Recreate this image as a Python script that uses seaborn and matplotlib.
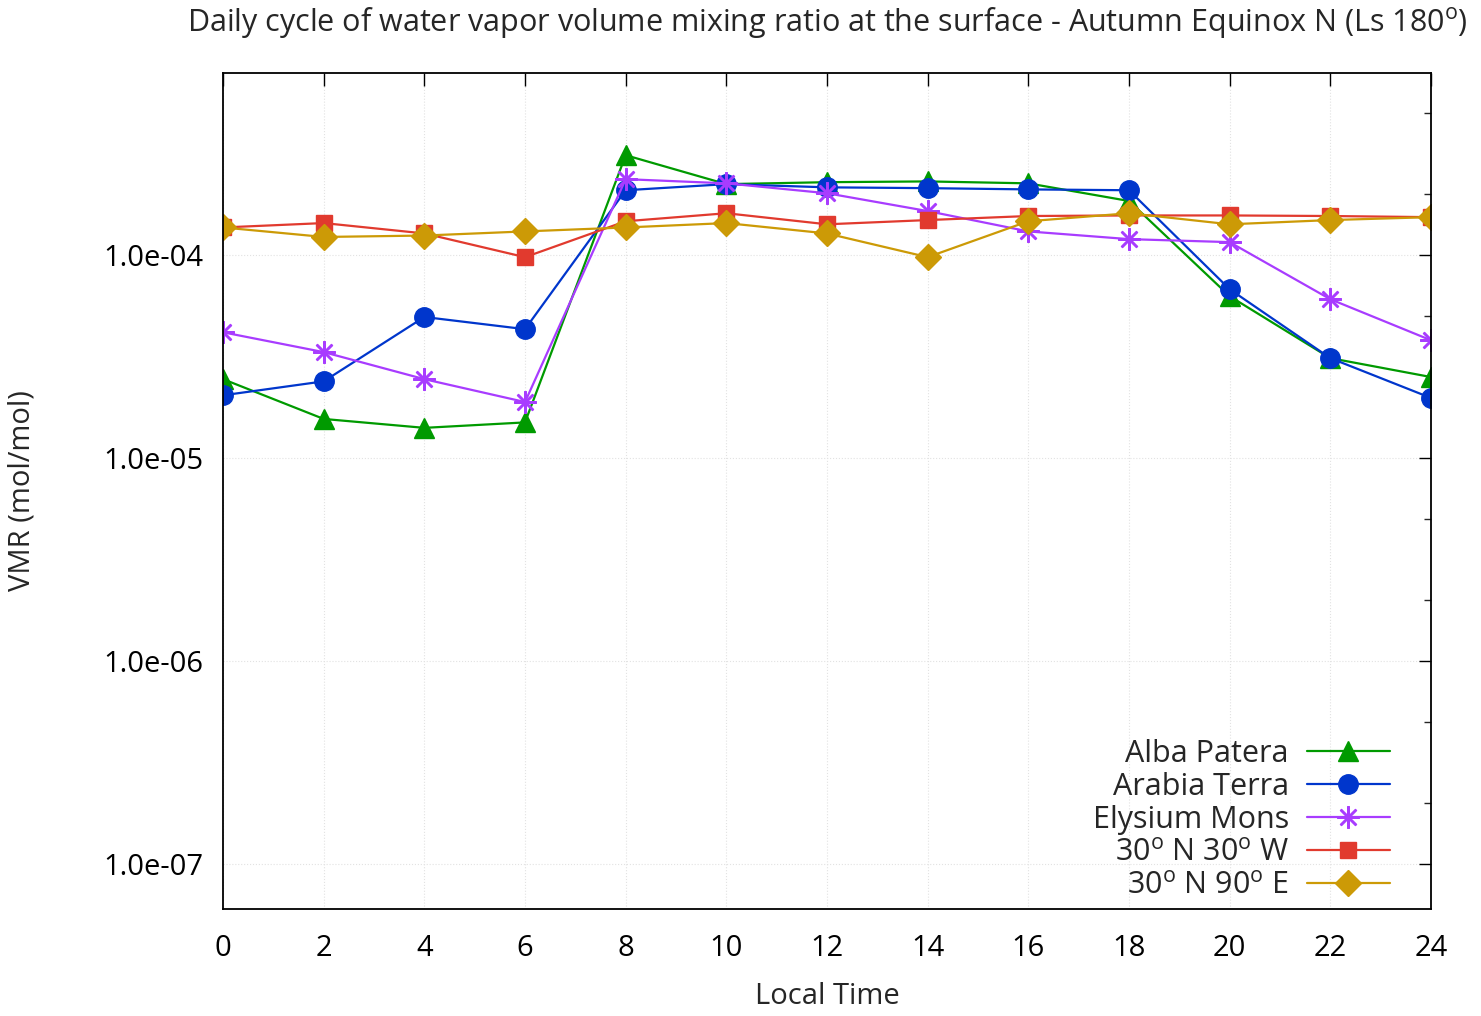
import numpy as np
import pandas as pd
import seaborn as sns
import matplotlib.pyplot as plt
from matplotlib.ticker import LogLocator, FormatStrFormatter, NullFormatter

# local time (hours)
hours = [0, 2, 4, 6, 8, 10, 12, 14, 16, 18, 20, 22, 24]

# water vapor VMR (mol/mol)
alba_patera = [2.45e-5, 1.56e-5, 1.41e-5, 1.50e-5, 3.11e-4, 2.24e-4, 2.29e-4,
               2.31e-4, 2.26e-4, 1.85e-4, 6.28e-5, 3.11e-5, 2.51e-5]
arabia_terra = [2.04e-5, 2.39e-5, 4.96e-5, 4.32e-5, 2.09e-4, 2.24e-4, 2.16e-4,
                2.14e-4, 2.11e-4, 2.09e-4, 6.80e-5, 3.11e-5, 1.98e-5]
elysium_mons = [4.17e-5, 3.33e-5, 2.45e-5, 1.89e-5, 2.37e-4, 2.26e-4, 2.02e-4,
                1.65e-4, 1.31e-4, 1.20e-4, 1.16e-4, 6.07e-5, 3.81e-5]
n30_w30 = [1.37e-4, 1.44e-4, 1.28e-4, 9.78e-5, 1.47e-4, 1.61e-4, 1.42e-4,
           1.49e-4, 1.56e-4, 1.57e-4, 1.57e-4, 1.56e-4, 1.54e-4]
n30_e90 = [1.37e-4, 1.23e-4, 1.25e-4, 1.31e-4, 1.37e-4, 1.44e-4, 1.28e-4,
           9.78e-5, 1.47e-4, 1.61e-4, 1.42e-4, 1.49e-4, 1.54e-4]

labels = ["Alba Patera", "Arabia Terra", "Elysium Mons",
          r"30$^{\rm o}$ N 30$^{\rm o}$ W", r"30$^{\rm o}$ N 90$^{\rm o}$ E"]
series = [alba_patera, arabia_terra, elysium_mons, n30_w30, n30_e90]
colors = ["#009a00", "#0036cc", "#a83cff", "#e13a2e", "#cc9a06"]
markers = ["^", "o", (8, 2, 0), "s", "D"]
msizes = [15, 14, 16, 12, 13]

sns.set_style("white")
plt.rcParams['font.family'] = ['Open Sans', 'DejaVu Sans']
plt.rcParams['mathtext.fontset'] = 'custom'
plt.rcParams['mathtext.rm'] = 'Open Sans'

fig = plt.figure(figsize=(14.81, 10.16), dpi=100)
ax = fig.add_axes([0.1506, 0.1053, 0.8156, 0.8228])

for lab, vals, c, m, ms in zip(labels, series, colors, markers, msizes):
    df = pd.DataFrame({'time': hours, 'vmr': vals})
    sns.lineplot(data=df, x='time', y='vmr', ax=ax, color=c, marker=m,
                 markersize=ms, markeredgecolor=c,
                 markeredgewidth=1.8 if m == (8, 2, 0) else 1,
                 linewidth=1.6, label=lab)

ax.set_yscale('log')
ax.set_xlim(0, 24)
ax.set_ylim(6e-8, 7.9e-4)
ax.set_xticks(range(0, 25, 2))
ax.yaxis.set_major_locator(LogLocator(base=10, numticks=20))
ax.yaxis.set_major_formatter(FormatStrFormatter('%.1e'))
ax.yaxis.set_minor_locator(LogLocator(base=10, subs=(2, 5), numticks=20))
ax.yaxis.set_minor_formatter(NullFormatter())

ax.grid(True, which='major', color='#e2e2e2', linestyle=':', linewidth=0.8)
for s in ax.spines.values():
    s.set_color('black')
    s.set_linewidth(1.3)
ax.tick_params(which='major', direction='in', length=9, width=1, top=True, right=True,
               labelsize=21, pad=14, colors='black')
ax.tick_params(which='minor', direction='in', length=5, width=1, top=True, right=True)
ax.tick_params(axis='x', pad=18)

ax.set_xlabel('Local Time', fontsize=21, labelpad=14)
ax.set_ylabel('VMR (mol/mol)', fontsize=21, labelpad=48)
ax.set_title('Daily cycle of water vapor volume mixing ratio at the surface - '
             'Autumn Equinox N (Ls 180$^{\\rm o}$)', fontsize=22, pad=30)

# markerfirst=False packs each row right-aligned, so labels end next to the samples
leg = ax.legend(loc='lower right', markerfirst=False, frameon=False, fontsize=22,
                handlelength=2.7, handletextpad=0.6, labelspacing=0.1,
                borderaxespad=0.0, bbox_to_anchor=(0.976, -0.005))

plt.savefig('out.png', dpi=100)
